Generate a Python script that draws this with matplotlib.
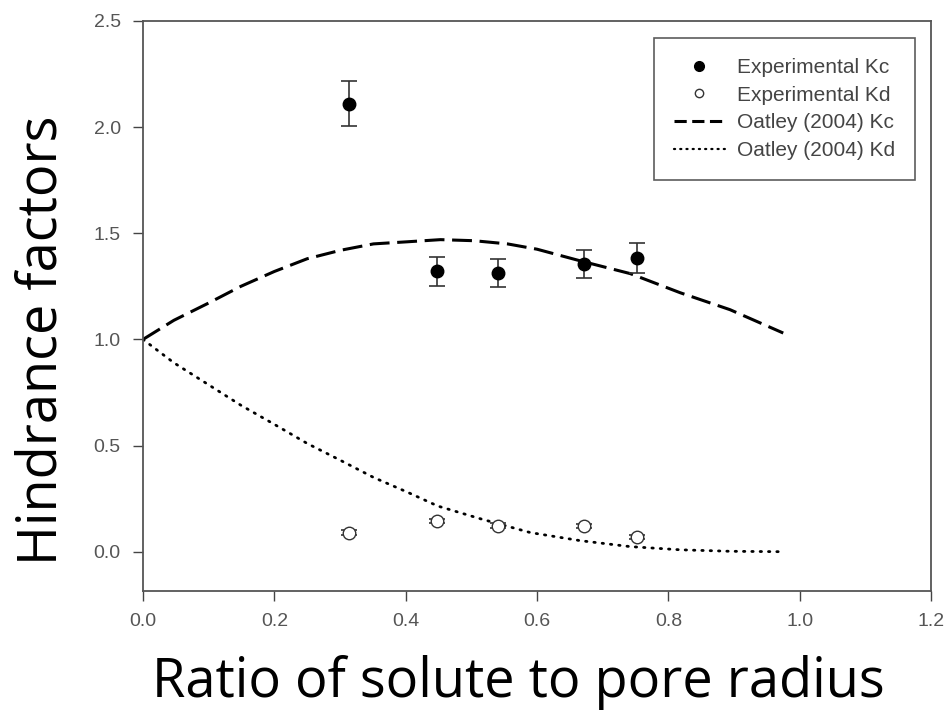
import numpy as np
import matplotlib.pyplot as plt
from matplotlib.lines import Line2D

# experimental points
x_exp = [0.313, 0.447, 0.540, 0.671, 0.753]
kc_exp = [2.11, 1.32, 1.315, 1.355, 1.385]
kc_err = [0.105, 0.067, 0.066, 0.068, 0.07]
kd_exp = [0.09, 0.145, 0.123, 0.12, 0.068]
kd_err = [0.01, 0.01, 0.01, 0.01, 0.01]

# Oatley (2004) curves
x_kc = [0.0, 0.047, 0.099, 0.149, 0.2, 0.25, 0.301, 0.351, 0.403, 0.453,
        0.504, 0.555, 0.6, 0.666, 0.742, 0.818, 0.894, 0.975]
kc_fit = [1.0, 1.09, 1.17, 1.25, 1.32, 1.38, 1.42, 1.45, 1.46, 1.47,
          1.465, 1.45, 1.425, 1.37, 1.31, 1.22, 1.14, 1.03]
x_kd = [0.0, 0.047, 0.098, 0.149, 0.2, 0.25, 0.301, 0.351, 0.403, 0.449,
        0.514, 0.59, 0.666, 0.742, 0.818, 0.894, 0.975]
kd_fit = [1.0, 0.89, 0.79, 0.69, 0.60, 0.51, 0.43, 0.35, 0.28, 0.215,
          0.155, 0.09, 0.052, 0.024, 0.009, 0.002, 0.0]

xticks = [0.0, 0.2, 0.4, 0.6, 0.8, 1.0, 1.2]
yticks = [0.0, 0.5, 1.0, 1.5, 2.0, 2.5]
labels = ['Experimental Kc', 'Experimental Kd',
          'Oatley (2004) Kc', 'Oatley (2004) Kd']

plt.rcParams['font.family'] = ['Liberation Sans', 'DejaVu Sans']

fig = plt.figure(figsize=(9.47, 7.14), dpi=100)
ax = fig.add_axes([0.151, 0.1723, 0.8321, 0.7983])

ax.errorbar(x_exp, kc_exp, yerr=kc_err, fmt='o', color='black', ms=9,
            ecolor='#333333', elinewidth=1.2, capsize=6, capthick=1.2,
            zorder=3)
ax.errorbar(x_exp, kd_exp, yerr=kd_err, fmt='o', mfc='white', mec='#333333',
            ms=9, ecolor='#333333', elinewidth=1.2, capsize=6, capthick=1.2,
            zorder=3)
ax.plot(x_kc, kc_fit, color='black', lw=2.2, dashes=(6.5, 2.5))
ax.plot(x_kd, kd_fit, color='black', lw=2, ls=(0, (0.5, 2.5)),
        dash_capstyle='round')

ax.set_xlim(0, 1.2)
ax.set_ylim(-0.185, 2.5)
ax.set_xticks(xticks)
ax.set_yticks(yticks)
ax.set_xticklabels(['%.1f' % v for v in xticks])
ax.set_yticklabels(['%.1f' % v for v in yticks])
ax.tick_params(direction='out', length=7, width=1, colors='#444444',
               labelsize=14, labelcolor='#555555', top=False, right=False)
ax.tick_params(axis='x', pad=9)
ax.tick_params(axis='y', pad=9)
for s in ax.spines.values():
    s.set_color('#555555')
    s.set_linewidth(1.3)

fig.text(0.547, 1 - 697 / 714, 'Ratio of solute to pore radius', fontsize=39,
         family=['Open Sans', 'DejaVu Sans'], ha='center', va='baseline')
fig.text(57 / 947, 1 - 340 / 714, 'Hindrance factors', fontsize=39,
         family=['Open Sans', 'DejaVu Sans'], rotation=90,
         rotation_mode='anchor', ha='center', va='baseline')

handles = [
    Line2D([], [], ls='none', marker='o', color='black', ms=7),
    Line2D([], [], ls='none', marker='o', mfc='white', mec='#333333', ms=6),
    Line2D([], [], color='black', lw=2.2, dashes=(4, 1.8)),
    Line2D([], [], color='black', lw=1.6, ls=(0, (0.5, 2.3)),
           dash_capstyle='round'),
]
leg = ax.legend(handles, labels, loc='upper right',
                bbox_to_anchor=(0.9797, 0.970),
                fontsize=15, frameon=True, fancybox=False,
                edgecolor='#333333', handlelength=2.45, borderpad=0.95,
                labelspacing=0.42, handletextpad=0.6, borderaxespad=0)
leg.get_frame().set_linewidth(1.2)
for t in leg.get_texts():
    t.set_color('#444444')

fig.savefig('out.png', dpi=100)
